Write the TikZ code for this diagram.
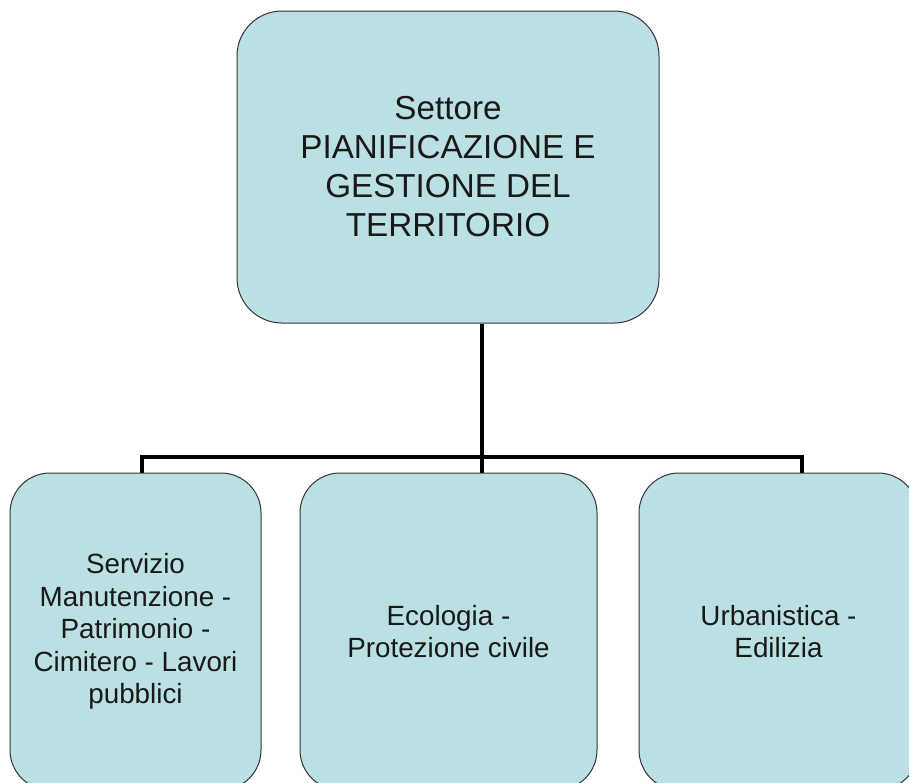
\documentclass[tikz,border=0pt]{standalone}
\usepackage{fontspec}
\setmainfont{Liberation Sans}
\begin{document}
\begin{tikzpicture}[x=1pt,y=1pt,
  orgbox/.style={draw=black!80, line width=1pt, fill=boxfill, rounded corners=40pt,
    align=center, inner sep=0pt, text=black!90},
  conn/.style={line width=4pt, draw=black, line join=miter}]
\definecolor{boxfill}{HTML}{BBE0E3}
\clip (0,0) rectangle (909,-782);
\useasboundingbox (0,0) rectangle (909,-782);
\node[orgbox, minimum width=422pt, minimum height=312pt, rounded corners=45pt,
  font=\fontsize{33.2}{39}\selectfont] (top) at (448,-167)
  {Settore\\PIANIFICAZIONE E\\GESTIONE DEL\\TERRITORIO};
\node[orgbox, minimum width=251pt, minimum height=317pt,
  font=\fontsize{27.8}{32.5}\selectfont] (left) at (135.5,-631.5)
  {Servizio\\Manutenzione -\\Patrimonio -\\Cimitero - Lavori\\pubblici};
\node[orgbox, minimum width=297pt, minimum height=317pt,
  font=\fontsize{27.8}{32.5}\selectfont] (mid) at (448.5,-631.5)
  {Ecologia -\\Protezione civile};
\node[orgbox, minimum width=279pt, minimum height=317pt,
  font=\fontsize{27.8}{32.5}\selectfont] (right) at (778.5,-631.5)
  {Urbanistica -\\Edilizia};
\coordinate (busM) at (482,-457);
\coordinate (busL) at (142,-457);
\coordinate (busR) at (802,-457);
\draw[conn] (top.south -| busM) -- (mid.north -| busM);
\draw[conn] (left.north -| busL) -- (busL) -- (busR) -- (right.north -| busR);
\end{tikzpicture}
\end{document}
